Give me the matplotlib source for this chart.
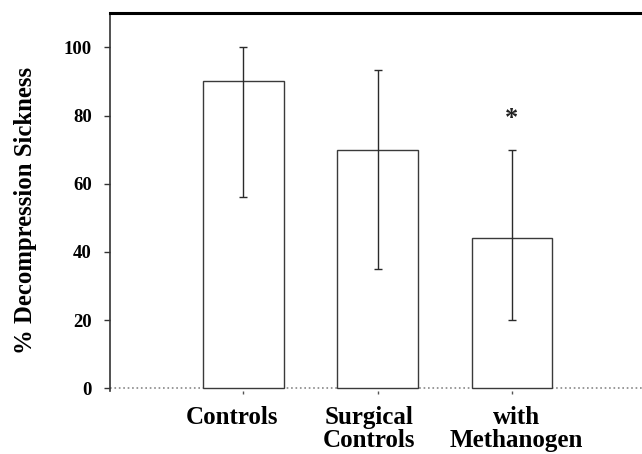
import matplotlib.pyplot as plt
import matplotlib.transforms as mtransforms
import numpy as np

# bar chart data
groups = ["Controls", "Surgical\nControls", "with\nMethanogen"]
dcs_pct = [90, 70, 44]
err_low = [34, 35, 24]    # mean - lower whisker
err_high = [10, 23.5, 26]  # upper whisker - mean
star_y = 79  # asterisk position over the methanogen group

plt.rcParams['font.family'] = ['Liberation Serif', 'DejaVu Serif']
plt.rcParams['font.weight'] = 'bold'

fig = plt.figure(figsize=(6.42, 4.54), dpi=100)
ax = fig.add_axes([0.1713, 0.139, 0.8287, 0.8317])

x = np.arange(len(groups))
ax.bar(x, dcs_pct, width=0.6, color='white', edgecolor='#3a3a3a', linewidth=1.0, zorder=2)
ax.errorbar(x, dcs_pct, yerr=[err_low, err_high], fmt='none', ecolor='#2a2a2a',
            elinewidth=1.0, capsize=3, capthick=1.0, zorder=3)
ax.text(x[2], star_y, '*', ha='center', va='center', fontsize=19, color='#222222')

# dotted baseline at zero
ax.axhline(0, color='#888888', linestyle=':', linewidth=1.2, zorder=1)

ax.set_xlim(-0.993, 2.97)
ax.set_ylim(-0.8, 110)
ax.set_yticks([0, 20, 40, 60, 80, 100])
ax.set_xticks(x)
ax.set_xticklabels(groups, fontsize=18, fontweight='bold', linespacing=1.0)
ax.tick_params(axis='x', length=2, width=1, pad=9, color='#555555')
ax.tick_params(axis='y', length=4, width=1, pad=9, labelsize=13.5, color='#333333')
for lab in ax.get_yticklabels():
    lab.set_fontweight('bold')

# the category labels in the original are not quite centred on the bars
shift_pt = [-7.9, -5.8, 3.6]
for lab, dx in zip(ax.get_xticklabels(), shift_pt):
    lab.set_transform(lab.get_transform() + mtransforms.ScaledTranslation(dx / 72, 0, fig.dpi_scale_trans))

ax.set_ylabel('% Decompression Sickness', fontsize=17.8, fontweight='bold')
ax.yaxis.set_label_coords(-0.137, 0.478)

ax.spines['right'].set_visible(False)
ax.spines['bottom'].set_visible(False)
ax.spines['top'].set_linewidth(2.2)
ax.spines['top'].set_color('black')
ax.spines['left'].set_linewidth(1.2)
ax.spines['left'].set_color('#333333')

fig.savefig('out.png', dpi=100)
